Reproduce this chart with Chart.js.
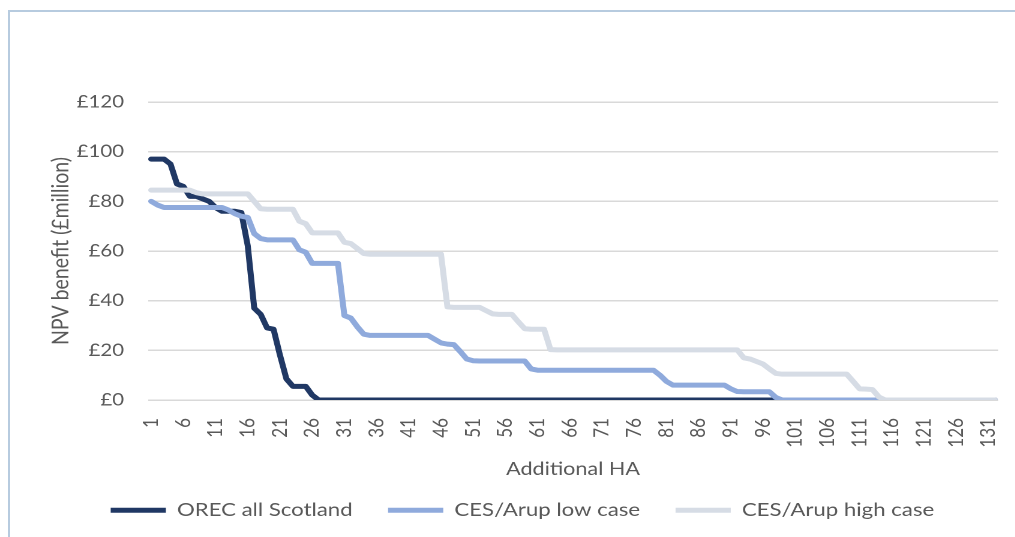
<!DOCTYPE html>
<html>
<head>
<meta charset="utf-8">
<script src="https://cdn.jsdelivr.net/npm/chart.js@4/dist/chart.umd.min.js"></script>
<style>
  html, body { margin: 0; padding: 0; background: #fff; }
  #wrap { position: relative; width: 1015px; height: 537px; overflow: hidden; }
  #frame { position: absolute; left: 8px; top: 10px; right: -4px; bottom: -4px;
           border-left: 2px solid #B7CBDF; border-top: 2px solid #B7CBDF; }
  /* the original picture is stretched sideways, so the chart is too */
  #box { position: absolute; left: 0; top: 0; width: 846px; height: 537px;
         transform: scaleX(1.2); transform-origin: 0 0; }
</style>
</head>
<body>
<div id="wrap">
  <div id="frame"></div>
  <div id="box"><canvas id="npvChart" width="846" height="537"></canvas></div>
</div>
<script>
// x categories: additional HA 1..132
const categories = [
  1, 2, 3, 4, 5, 6, 7, 8, 9, 10, 11, 12,
  13, 14, 15, 16, 17, 18, 19, 20, 21, 22, 23, 24,
  25, 26, 27, 28, 29, 30, 31, 32, 33, 34, 35, 36,
  37, 38, 39, 40, 41, 42, 43, 44, 45, 46, 47, 48,
  49, 50, 51, 52, 53, 54, 55, 56, 57, 58, 59, 60,
  61, 62, 63, 64, 65, 66, 67, 68, 69, 70, 71, 72,
  73, 74, 75, 76, 77, 78, 79, 80, 81, 82, 83, 84,
  85, 86, 87, 88, 89, 90, 91, 92, 93, 94, 95, 96,
  97, 98, 99, 100, 101, 102, 103, 104, 105, 106, 107, 108,
  109, 110, 111, 112, 113, 114, 115, 116, 117, 118, 119, 120,
  121, 122, 123, 124, 125, 126, 127, 128, 129, 130, 131, 132
];

// NPV benefit, £ million
const orecAllScotland = [
  97, 97, 97, 95, 87, 86, 82, 82, 81, 80, 77.5, 76,
  76, 76, 75.5, 62, 37, 34.5, 29, 28.5, 18, 8.5, 5.5, 5.5,
  5.5, 2, 0, 0, 0, 0, 0, 0, 0, 0, 0, 0,
  0, 0, 0, 0, 0, 0, 0, 0, 0, 0, 0, 0,
  0, 0, 0, 0, 0, 0, 0, 0, 0, 0, 0, 0,
  0, 0, 0, 0, 0, 0, 0, 0, 0, 0, 0, 0,
  0, 0, 0, 0, 0, 0, 0, 0, 0, 0, 0, 0,
  0, 0, 0, 0, 0, 0, 0, 0, 0, 0, 0, 0,
  0, 0, 0, 0, 0, 0, 0, 0, 0, 0, 0, 0,
  0, 0, 0, 0, 0, 0, 0, 0, 0, 0, 0, 0,
  0, 0, 0, 0, 0, 0, 0, 0, 0, 0, 0, 0
];

const cesArupLow = [
  80, 78.5, 77.5, 77.5, 77.5, 77.5, 77.5, 77.5, 77.5, 77.5, 77.5, 77.5,
  76.5, 75, 74, 73.5, 67, 65, 64.5, 64.5, 64.5, 64.5, 64.5, 60.5,
  59.5, 55, 55, 55, 55, 55, 34, 33, 29.5, 26.5, 26, 26,
  26, 26, 26, 26, 26, 26, 26, 26, 24.5, 23, 22.5, 22.3,
  19.5, 16.5, 15.8, 15.7, 15.7, 15.7, 15.7, 15.7, 15.7, 15.7, 15.7, 12.5,
  12, 12, 12, 12, 12, 12, 12, 12, 12, 12, 12, 12,
  12, 12, 12, 12, 12, 12, 12, 10, 7.5, 6, 6, 6,
  6, 6, 6, 6, 6, 6, 4.5, 3.4, 3.3, 3.3, 3.3, 3.3,
  3.3, 1, 0, 0, 0, 0, 0, 0, 0, 0, 0, 0,
  0, 0, 0, 0, 0, 0, 0, 0, 0, 0, 0, 0,
  0, 0, 0, 0, 0, 0, 0, 0, 0, 0, 0, 0
];

const cesArupHigh = [
  84.5, 84.5, 84.5, 84.5, 84.5, 84.5, 84.5, 83.5, 83, 83, 83, 83,
  83, 83, 83, 83, 80, 77, 76.8, 76.8, 76.8, 76.8, 76.8, 72,
  71, 67.3, 67.3, 67.3, 67.3, 67.3, 63.5, 63, 61, 59, 58.7, 58.7,
  58.7, 58.7, 58.7, 58.7, 58.7, 58.7, 58.7, 58.7, 58.7, 58.7, 37.5, 37.3,
  37.3, 37.3, 37.3, 37.3, 36, 34.7, 34.5, 34.5, 34.5, 31.5, 28.7, 28.5,
  28.5, 28.5, 20.3, 20.2, 20.2, 20.2, 20.2, 20.2, 20.2, 20.2, 20.2, 20.2,
  20.2, 20.2, 20.2, 20.2, 20.2, 20.2, 20.2, 20.2, 20.2, 20.2, 20.2, 20.2,
  20.2, 20.2, 20.2, 20.2, 20.2, 20.2, 20.2, 20.2, 17, 16.5, 15.5, 14.5,
  12.5, 10.7, 10.4, 10.4, 10.4, 10.4, 10.4, 10.4, 10.4, 10.4, 10.4, 10.4,
  10.4, 7.5, 4.5, 4.4, 4.2, 1.2, 0, 0, 0, 0, 0, 0,
  0, 0, 0, 0, 0, 0, 0, 0, 0, 0, 0, 0
];

const yTicks = [0, 20, 40, 60, 80, 100, 120];

const fontFamily = "Lato, 'Open Sans', sans-serif";
const textColor = "#595959";

const makeLine = (label, data, color, order) => ({
  label: label,
  data: data,
  borderColor: color,
  backgroundColor: color,
  borderWidth: 5,
  pointRadius: 0,
  pointHoverRadius: 0,
  tension: 0,
  fill: false,
  borderJoinStyle: "round",
  borderCapStyle: "round",
  order: order,
});

const ctx = document.getElementById("npvChart").getContext("2d");
new Chart(ctx, {
  type: "line",
  data: {
    labels: categories,
    datasets: [
      makeLine("OREC all Scotland", orecAllScotland, "#203864", 3),
      makeLine("CES/Arup low case", cesArupLow, "#8FAADC", 2),
      makeLine("CES/Arup high case", cesArupHigh, "#D6DCE5", 1),
    ],
  },
  options: {
    responsive: false,
    animation: false,
    devicePixelRatio: 2,
    layout: {
      padding: { top: 102, left: 39, right: 14.3, bottom: 7.5 },
    },
    plugins: {
      tooltip: { enabled: false },
      legend: {
        position: "bottom",
        maxHeight: 60,
        labels: {
          color: textColor,
          font: { family: fontFamily, size: 18.5 },
          boxWidth: 46,
          boxHeight: 5,
          padding: 29.5,
          sort: (a, b) => a.datasetIndex - b.datasetIndex,
          generateLabels: (chart) =>
            chart.data.datasets.map((ds, i) => ({
              text: ds.label,
              fillStyle: ds.borderColor,
              strokeStyle: ds.borderColor,
              lineWidth: 0,
              fontColor: textColor,
              datasetIndex: i,
            })),
        },
      },
    },
    scales: {
      x: {
        offset: true,
        grid: { display: false, drawTicks: false },
        border: { display: false },
        afterFit: (scale) => {
          scale.height = 71.5;
          scale.paddingLeft = 0;
          scale.paddingRight = 0;
        },
        ticks: {
          autoSkip: false,
          maxRotation: 90,
          minRotation: 90,
          padding: 18,
          color: textColor,
          font: { family: fontFamily, size: 17 },
          callback: function (value, index) {
            return index % 5 === 0 ? String(categories[index]) : "";
          },
        },
        title: {
          display: true,
          text: "Additional HA",
          color: textColor,
          font: { family: fontFamily, size: 18 },
          padding: { top: 0, bottom: -8.3 },
        },
      },
      y: {
        min: yTicks[0],
        max: yTicks[yTicks.length - 1],
        grid: { color: "#D9D9D9", lineWidth: 1.5, drawTicks: false },
        border: { display: false },
        afterFit: (scale) => {
          scale.width = 84.3;
        },
        afterBuildTicks: (scale) => {
          scale.ticks = yTicks.map((v) => ({ value: v }));
        },
        ticks: {
          padding: 20,
          color: textColor,
          font: { family: fontFamily, size: 17 },
          callback: (v) => "£" + v,
        },
        title: {
          display: true,
          text: "NPV benefit (£million)",
          color: textColor,
          font: { family: fontFamily, size: 19.5 },
          padding: { top: 0, bottom: 0 },
        },
      },
    },
  },
});
</script>
</body>
</html>
